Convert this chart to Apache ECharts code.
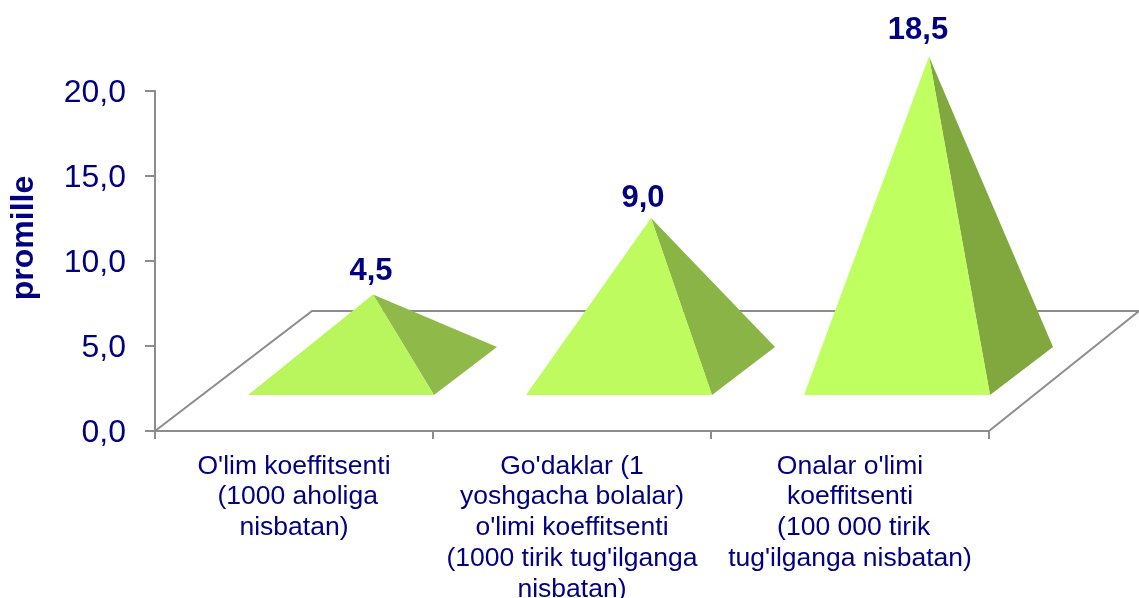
<!DOCTYPE html>
<html>
<head>
<meta charset="utf-8">
<style>
  html, body { margin: 0; padding: 0; background: #fff; }
  #mychart { width: 1139px; height: 598px; }
</style>
<script src="https://cdn.jsdelivr.net/npm/echarts@6/dist/echarts.min.js"></script>
</head>
<body>
<div id="mychart"></div>
<script>
var categories = [
  "O'lim koeffitsenti\n (1000 aholiga\nnisbatan)",
  "Go'daklar (1\nyoshgacha bolalar)\no'limi koeffitsenti\n(1000 tirik tug'ilganga\nnisbatan)",
  "Onalar o'limi\nkoeffitsenti\n (100 000 tirik\ntug'ilganga nisbatan)"
];
var values = [4.5, 9.0, 18.5];
var axisName = 'promille';

var NAVY = '#000080';
var FONT = '"Liberation Sans", Arial, sans-serif';
var AXIS_COLOR = '#8c8c8c';
var FRONT_COLORS = ['#b9f55d', '#bdfb5e', '#c0ff60'];
var SIDE_COLORS = ['#8fba4a', '#8ab546', '#80a83f'];
// data labels do not sit exactly over the apex in the original
var LABEL_NUDGE = [[-2, -23], [-8, -20], [-11, -26]];

function fmt(v) {
  return v.toFixed(1).replace('.', ',');
}

// floor of the 3d plot, sits behind the pyramids
function renderFloor(params, api) {
  var origin = api.coord([0, 0]);
  var band = api.size([1, 0])[0];
  var x0 = origin[0] - band / 2;
  var x1 = x0 + band * 3;
  var y0 = origin[1];
  return {
    type: 'polyline',
    silent: true,
    shape: { points: [[x0, y0], [x0 + 157, y0 - 120], [x1 + 150, y0 - 120], [x1, y0]] },
    style: { fill: null, stroke: AXIS_COLOR, lineWidth: 2 }
  };
}

function renderPyramid(params, api) {
  var i = api.value(0);
  var base = api.coord([i, 0]);
  var top = api.coord([i, api.value(1)]);
  var cx = base[0], y0 = base[1];
  var apex = [cx + 79, top[1] - 60];
  var fl = [cx - 46, y0 - 36];
  var fr = [cx + 140, y0 - 36];
  var br = [cx + 203, y0 - 84];
  return {
    type: 'group',
    children: [
      {
        type: 'polygon',
        shape: { points: [apex, fr, br] },
        style: { fill: SIDE_COLORS[i] }
      },
      {
        type: 'polygon',
        shape: { points: [apex, fl, fr] },
        style: { fill: FRONT_COLORS[i] }
      },
      {
        type: 'text',
        style: {
          text: fmt(api.value(1)),
          x: apex[0] + LABEL_NUDGE[i][0],
          y: apex[1] + LABEL_NUDGE[i][1],
          align: 'center',
          verticalAlign: 'middle',
          fill: NAVY,
          font: 'bold 31px ' + FONT
        }
      }
    ]
  };
}

var chart = echarts.init(document.getElementById('mychart'), null, { renderer: 'canvas' });
chart.setOption({
  animation: false,
  textStyle: { fontFamily: FONT },
  grid: { left: 155, top: 91, width: 834, height: 340, outerBoundsMode: 'none' },
  xAxis: {
    type: 'category',
    data: categories,
    axisLine: { lineStyle: { color: AXIS_COLOR, width: 2 } },
    axisTick: { show: true, length: 8, lineStyle: { color: AXIS_COLOR, width: 2 } },
    axisLabel: {
      interval: 0,
      margin: 20,
      color: NAVY,
      fontSize: 26.5,
      lineHeight: 30.75,
      fontFamily: FONT
    }
  },
  yAxis: {
    type: 'value',
    min: 0,
    max: 20,
    interval: 5,
    name: axisName,
    nameLocation: 'middle',
    nameGap: 115,
    nameTextStyle: {
      color: NAVY,
      fontSize: 32,
      fontWeight: 'bold',
      fontFamily: FONT,
      padding: [0, 0, 0, 46]
    },
    splitLine: { show: false },
    axisLine: { show: true, lineStyle: { color: AXIS_COLOR, width: 2 } },
    axisTick: { show: true, length: 10, lineStyle: { color: AXIS_COLOR, width: 2 } },
    axisLabel: {
      margin: 29,
      formatter: function (v) {
        return '{tick|' + fmt(v) + '}';
      },
      rich: {
        tick: {
          color: NAVY,
          fontSize: 32,
          fontFamily: FONT,
          padding: [5, 0, 0, 0]
        }
      }
    }
  },
  series: [
    {
      type: 'custom',
      clip: false,
      silent: true,
      z: 1,
      encode: { x: 0, y: 1 },
      data: [[0, 0]],
      renderItem: renderFloor
    },
    {
      type: 'custom',
      clip: false,
      silent: true,
      z: 2,
      encode: { x: 0, y: 1 },
      data: values.map(function (v, i) { return [i, v]; }),
      renderItem: renderPyramid
    }
  ]
});
</script>
</body>
</html>
